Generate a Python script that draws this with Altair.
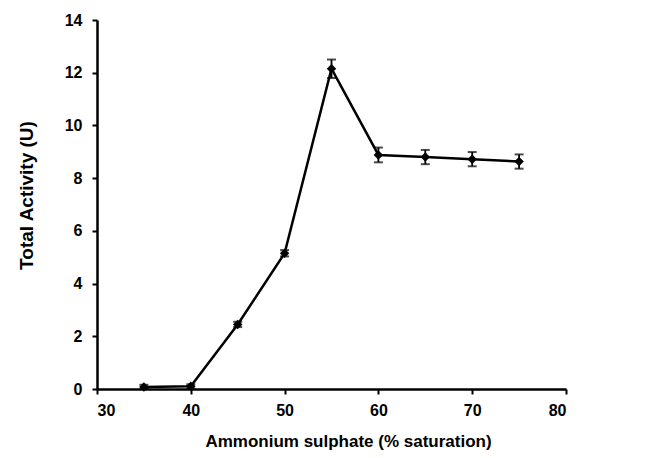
import altair as alt
import pandas as pd

saturation = [35, 40, 45, 50, 55, 60, 65, 70, 75]
activity = [0.08, 0.1, 2.45, 5.15, 12.15, 8.88, 8.8, 8.72, 8.63]
error = [0.08, 0.08, 0.1, 0.12, 0.35, 0.28, 0.27, 0.27, 0.27]

df = pd.DataFrame({"x": saturation, "y": activity, "err": error})
df["lo"] = df["y"] - df["err"]
df["hi"] = df["y"] + df["err"]

xscale = alt.Scale(domain=[30, 80], nice=False, zero=False)
yscale = alt.Scale(domain=[0, 14], nice=False)

xax = alt.Axis(values=[30, 40, 50, 60, 70, 80], title="Ammonium sulphate (% saturation)",
               grid=False, tickSize=5, labelPadding=8, titlePadding=15, titleFontSize=17,
               titleX=251)
yax = alt.Axis(values=[0, 2, 4, 6, 8, 10, 12, 14], title="Total Activity (U)",
               grid=False, tickSize=5, labelPadding=10, titlePadding=28, titleFontSize=19,
               titleY=175)

base = alt.Chart(df)
line = base.mark_line(color="black", strokeWidth=2.5).encode(
    x=alt.X("x:Q", scale=xscale, axis=xax),
    y=alt.Y("y:Q", scale=yscale, axis=yax),
)
rule = base.mark_rule(color="black", strokeWidth=1.8).encode(
    x="x:Q", y="lo:Q", y2="hi:Q"
)
cap_hi = base.mark_tick(color="black", orient="horizontal", size=9, thickness=2).encode(
    x="x:Q", y="hi:Q"
)
cap_lo = base.mark_tick(color="black", orient="horizontal", size=9, thickness=2).encode(
    x="x:Q", y="lo:Q"
)
pts = base.mark_point(shape="diamond", filled=True, color="black", size=90, opacity=1).encode(
    x="x:Q", y="y:Q"
)

chart = alt.layer(line, rule, cap_hi, cap_lo, pts).properties(
    width=469, height=369,
    autosize=alt.AutoSizeParams(type="none"),
    padding={"left": 89, "top": 12, "right": 30, "bottom": 62},
).configure_view(stroke=None).configure_axis(
    domainColor="black", domainWidth=2.5, tickColor="black", tickWidth=2,
    labelFont="Liberation Sans", labelFontSize=16, labelFontWeight="bold", labelColor="black",
    titleFont="Liberation Sans", titleFontWeight="bold", titleColor="black",
)

chart.save("out.html", embed_options={"renderer": "svg", "actions": False})
